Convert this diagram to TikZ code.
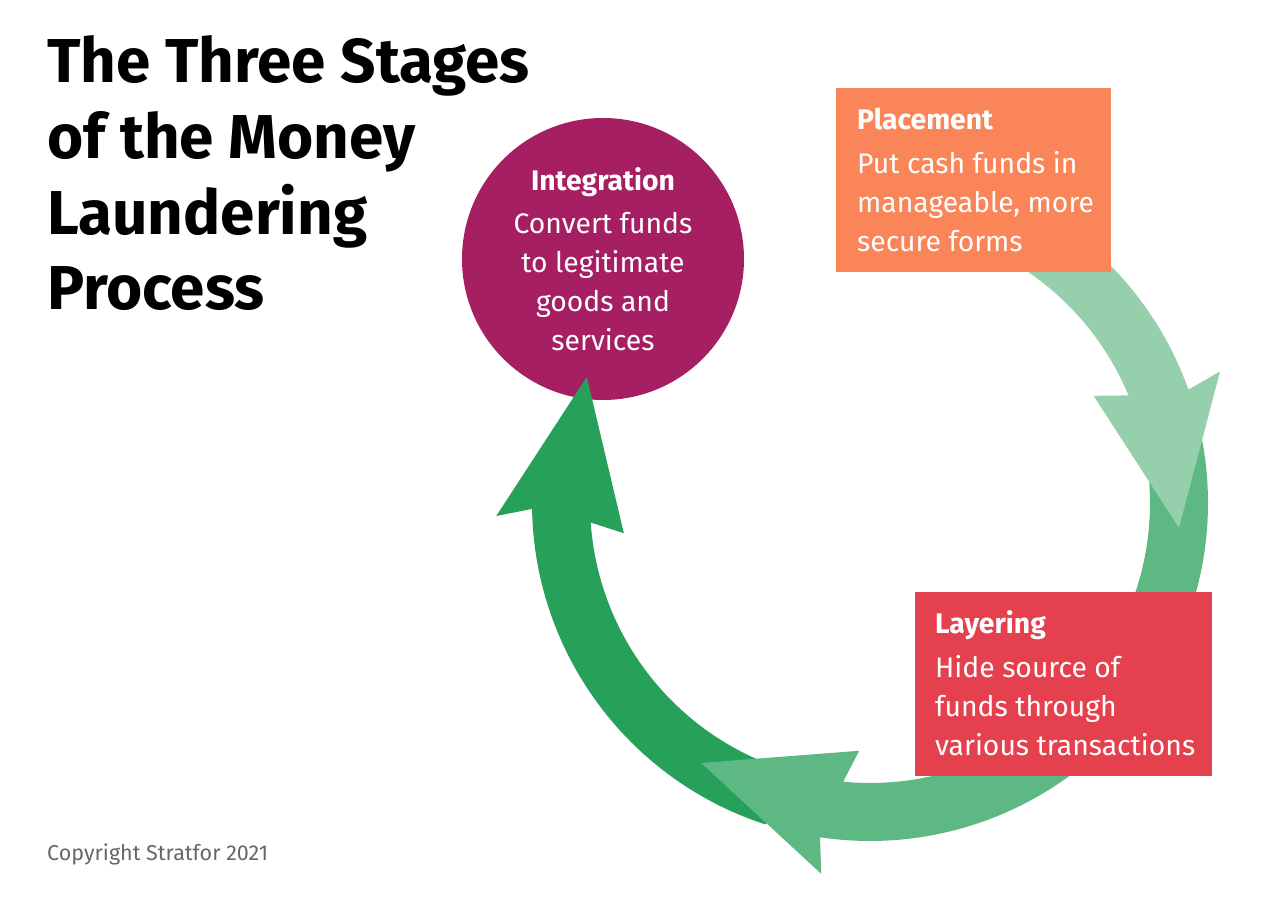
\documentclass[tikz,border=0pt]{standalone}
\usepackage{fontspec}
\setmainfont{Fira Sans}

\definecolor{integrationplum}{HTML}{A51F62}
\definecolor{placementorange}{HTML}{F98558}
\definecolor{layeringred}{HTML}{E5404E}
\definecolor{greenlight}{HTML}{95CFAB}
\definecolor{greenmid}{HTML}{5DB884}
\definecolor{greendark}{HTML}{27A05A}
\definecolor{creditgray}{HTML}{666666}

% curved arrow on the ring: colour, start angle, base angle, tip angle
\newcommand{\ringarrow}[4]{%
  \fill[#1, shift={(ring)}] (#2:338) arc[start angle=#2, end angle=#3, radius=338]
    -- ({#3+1}:374) -- (#4:310) -- ({#3+6}:248) -- ({#3+3}:280)
    arc[start angle={#3+3}, end angle=#2, radius=280] -- cycle;}

\begin{document}
\begin{tikzpicture}[x=1pt, y=1pt,
  stagebox/.style={rectangle, anchor=north west, inner sep=0pt, minimum height=184},
  stagetext/.style={text=white, align=left, anchor=base west, inner sep=0pt,
                    font=\fontsize{28.3}{39}\selectfont},
  stagedisc/.style={circle, text=white, align=center, minimum size=282, inner sep=0pt,
                    font=\fontsize{28.3}{39}\selectfont}
]
\useasboundingbox (0,0) rectangle (1280,897);
\coordinate (ring) at (870,394);

\node[anchor=base west, align=left, inner sep=0pt,
      font=\bfseries\fontsize{62}{75.7}\selectfont] (title) at (47,587)
  {The Three Stages\\of the Money\\Laundering\\Process};

\node[stagedisc, fill=integrationplum] (integration) at (603,638)
  {\textbf{Integration}\\[4pt]Convert funds\\to legitimate\\goods and\\services};

\ringarrow{greendark}{252}{181}{156}
\ringarrow{greenmid}{15}{-98.5}{-123}
\ringarrow{greenlight}{80}{19.6}{-4.6}

\node[stagebox, fill=placementorange, minimum width=275] (placement) at (836,809) {};
\node[stagetext] (placementtext) at (857,645)
  {\textbf{Placement}\\[5pt]Put cash funds in\\manageable, more\\secure forms};
\node[stagebox, fill=layeringred, minimum width=297] (layering) at (915,305) {};
\node[stagetext] (layeringtext) at (935,141)
  {\textbf{Layering}\\[5pt]Hide source of\\funds through\\various transactions};

\node[anchor=base west, inner sep=0pt, text=creditgray, font=\fontsize{21.5}{26}\selectfont]
  (credit) at (47,36) {Copyright Stratfor 2021};
\end{tikzpicture}
\end{document}
